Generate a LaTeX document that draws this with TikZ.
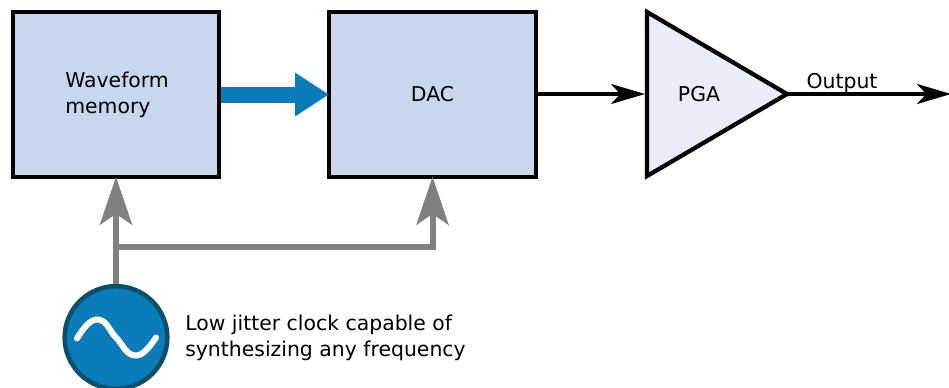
\documentclass[tikz,border=0pt]{standalone}
\usepackage{fontspec}
\setmainfont{DejaVu Sans}
\usepackage{tikz}
\usetikzlibrary{arrows.meta,positioning,calc,shapes.geometric}
\definecolor{ctBox}{HTML}{C8D6EE}
\definecolor{ctAmp}{HTML}{E9EDF8}
\definecolor{ctBlue}{HTML}{0A7CBA}
\definecolor{ctRim}{HTML}{0B5068}
\definecolor{ctGrey}{HTML}{808080}
\tikzset{
  blockbox/.style={draw=black,fill=ctBox,line width=3.2pt,minimum width=155pt,minimum height=124pt,inner sep=0pt},
  sigline/.style={draw=black,line width=3pt,shorten >=1.5pt,-{Stealth[length=25.5pt,width=15pt,inset=7pt]}},
  clkline/.style={draw=ctGrey,line width=4.5pt},
  clkarrow/.style={clkline,shorten >=-2pt,-{Stealth[length=36pt,width=24pt,inset=8pt]}},
  datarrow/.style={draw=ctBlue,line width=12pt,shorten >=-1.5pt,-{Triangle[length=25.5pt,width=31pt]}}
}
\begin{document}
\begin{tikzpicture}[x=0.75pt,y=-0.75pt, every node/.style={font=\fontsize{15.3pt}{19.5pt}\selectfont,text=black}]
  \useasboundingbox (0,0) rectangle (949,387);
  \node[blockbox] (wave) at (116,94.5) {};
  \node[blockbox] (dac) at (432.5,94.5) {DAC};
  \node[align=left,anchor=west,inner sep=0pt] (wavetext) at (65,95) {Waveform\\memory};
  \node[draw=black,fill=ctAmp,line width=3.2pt,isosceles triangle,isosceles triangle apex angle=60,isosceles triangle stretches=true,
    minimum width=123pt,minimum height=105pt,inner sep=0pt,outer sep=0pt,anchor=lower side] (pga) at (647,94) {};
  \node (pgatext) at (699,94) {PGA};
  \node[circle,draw=ctRim,fill=ctBlue,line width=3.4pt,minimum size=77pt,inner sep=0pt] (clock) at (116,337.5) {};
  \node[align=left,anchor=west,inner sep=0pt] (clocktext) at (185,338) {Low jitter clock capable of\\synthesizing any frequency};
  \coordinate (tap) at (116,247);
  \coordinate (out) at (953,94);
  \node[above right=0pt and 14.5pt of pga.apex,inner sep=0pt,yshift=1pt] (outtext) {Output};
  \draw[datarrow] (wave.east) -- (dac.west);
  \draw[sigline] (dac.east|-pga.lower side) -- (pga.lower side);
  \draw[sigline] (pga.apex) -- (out);
  \draw[clkarrow] (clock.north) -- (wave.south);
  \draw[clkarrow] (tap) -- (tap-|dac.south) -- (dac.south);
  \draw[white,line width=4.5pt,line cap=round] ($(clock)+(-39,1)$) .. controls ($(clock)+(-33,-9)$) and ($(clock)+(-26,-18)$) .. ($(clock)+(-19,-18)$)
    .. controls ($(clock)+(-9,-18)$) and ($(clock)+(-7,-7)$) .. (clock.center)
    .. controls ($(clock)+(7,7)$) and ($(clock)+(10,18)$) .. ($(clock)+(20,18)$)
    .. controls ($(clock)+(27,18)$) and ($(clock)+(34,9)$) .. ($(clock)+(40,0)$);
\end{tikzpicture}
\end{document}
